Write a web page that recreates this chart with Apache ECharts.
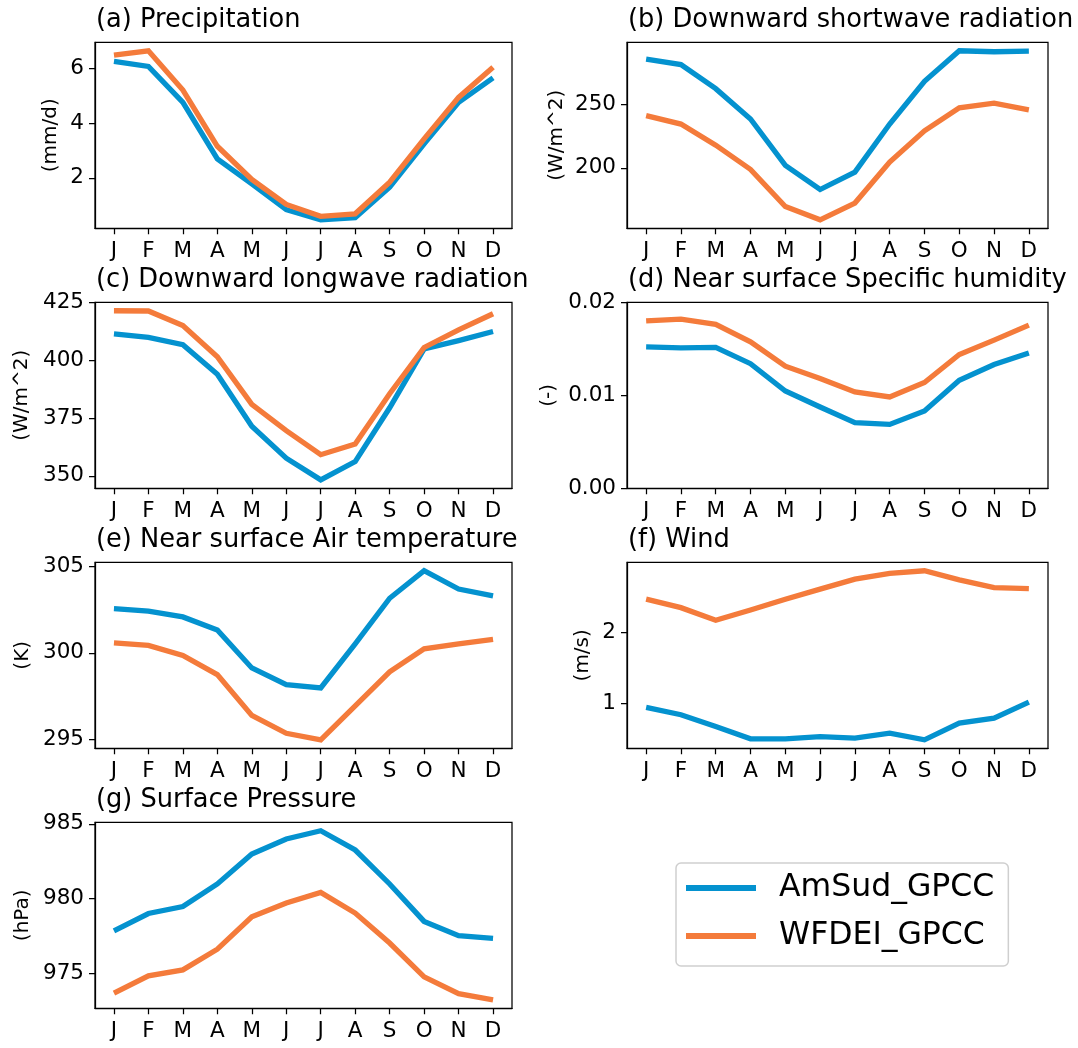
<!DOCTYPE html>
<html>
<head>
<meta charset="utf-8">
<script src="https://cdn.jsdelivr.net/npm/echarts@6/dist/echarts.min.js"></script>
<style>
html,body{margin:0;padding:0;background:#fff;}
#chart{width:1078px;height:1048px;}
</style>
</head>
<body>
<div id="chart"></div>
<script>
// ---------- data ----------
const months = ['J','F','M','A','M','J','J','A','S','O','N','D'];
const seriesNames = ['AmSud_GPCC','WFDEI_GPCC'];

const precipAmSud = [6.24,6.06,4.75,2.69,1.78,0.84,0.47,0.55,1.66,3.24,4.75,5.64];
const precipWFDEI = [6.47,6.63,5.20,3.15,1.94,1.03,0.60,0.69,1.84,3.42,4.93,6.03];
const precipTicks = [2,4,6];

const swAmSud = [286.0,281.7,262.6,238.6,201.9,182.8,196.6,234.6,268.4,292.6,291.8,292.3];
const swWFDEI = [241.3,234.6,217.9,198.7,169.4,158.8,172.1,204.5,229.3,247.4,251.1,245.8];
const swTicks = [200,250];

const lwAmSud = [411.5,410.0,406.8,394.0,371.5,357.7,348.3,356.2,379.5,405.0,408.6,412.5];
const lwWFDEI = [421.5,421.4,415.1,401.6,381.0,369.6,359.2,363.8,385.6,405.6,413.2,420.2];
const lwTicks = [350,375,400,425];

const qAmSud = [0.0152,0.0151,0.01515,0.0134,0.01046,0.00874,0.00705,0.00687,0.00831,0.01162,0.01331,0.01456];
const qWFDEI = [0.0180,0.0182,0.01763,0.01575,0.01313,0.0118,0.01036,0.00982,0.01137,0.01439,0.01593,0.01755];
const qTicks = [0,0.01,0.02];
const qLimits = [0,0.02];

const tAmSud = [302.56,302.42,302.08,301.32,299.13,298.16,297.97,300.52,303.16,304.75,303.69,303.30];
const tWFDEI = [300.58,300.43,299.85,298.74,296.38,295.35,294.97,296.94,298.90,300.23,300.52,300.78];
const tTicks = [295,300,305];

const windAmSud = [0.948,0.846,0.682,0.509,0.509,0.541,0.518,0.588,0.495,0.728,0.798,1.022];
const windWFDEI = [2.459,2.341,2.164,2.309,2.459,2.600,2.739,2.818,2.856,2.729,2.621,2.607];
const windTicks = [1,2];

const psAmSud = [977.83,978.99,979.46,980.97,982.98,983.99,984.54,983.25,980.97,978.46,977.50,977.32];
const psWFDEI = [973.65,974.81,975.21,976.60,978.77,979.69,980.40,979.02,977.01,974.74,973.62,973.20];
const psTicks = [975,980,985];

// ---------- layout / style ----------
const FONT = 'DejaVu Sans';
const BLUE = '#0492cf';
const ORANGE = '#f47b3b';
const colLeft = [95, 627];
const colWidth = [417, 421];
const rowTop = [42.3, 302.3, 562.3, 822.3];
const boxH = 186;

const panels = [
  {title:'(a) Precipitation', unit:'(mm/d)', a:precipAmSud, w:precipWFDEI, ticks:precipTicks, dec:0, col:0, row:0, gap:34},
  {title:'(b) Downward shortwave radiation', unit:'(W/m^2)', a:swAmSud, w:swWFDEI, ticks:swTicks, dec:0, col:1, row:0, gap:60},
  {title:'(c) Downward longwave radiation', unit:'(W/m^2)', a:lwAmSud, w:lwWFDEI, ticks:lwTicks, dec:0, col:0, row:1, gap:63},
  {title:'(d) Near surface Specific humidity', unit:'(-)', a:qAmSud, w:qWFDEI, ticks:qTicks, dec:2, col:1, row:1, gap:68, lim:qLimits},
  {title:'(e) Near surface Air temperature', unit:'(K)', a:tAmSud, w:tWFDEI, ticks:tTicks, dec:0, col:0, row:2, gap:62},
  {title:'(f) Wind', unit:'(m/s)', a:windAmSud, w:windWFDEI, ticks:windTicks, dec:0, col:1, row:2, gap:34},
  {title:'(g) Surface Pressure', unit:'(hPa)', a:psAmSud, w:psWFDEI, ticks:psTicks, dec:0, col:0, row:3, gap:62}
];

function pad(lo, hi){ const r = hi - lo; return [lo - 0.05*r, hi + 0.05*r]; }
const monthIdx = months.map((m,i)=>i);
const xLim = pad(0, months.length-1);

const grid = [], xAxis = [], yAxis = [], series = [], title = [];
panels.forEach((p, k) => {
  const all = p.a.concat(p.w);
  const lim = p.lim || pad(Math.min.apply(null, all), Math.max.apply(null, all));
  grid.push({left: colLeft[p.col], top: rowTop[p.row], width: colWidth[p.col], height: boxH,
    show: true, borderColor: '#000', borderWidth: 1.25, backgroundColor: 'transparent', containLabel: false});
  title.push({text: p.title, left: colLeft[p.col] + 1, top: rowTop[p.row] - 34.5, padding: 0,
    textStyle: {fontFamily: FONT, fontSize: 25.7, fontWeight: 'normal', color: '#000'}});
  xAxis.push({type: 'value', gridIndex: k, min: xLim[0], max: xLim[1],
    axisLine: {show: true, onZero: false, lineStyle: {color: '#000', width: 1.25}},
    axisTick: {show: true, length: 6, customValues: monthIdx, lineStyle: {color: '#000', width: 1.25}},
    axisLabel: {customValues: monthIdx, margin: 12, color: '#000', fontFamily: FONT, fontSize: 21.5,
      formatter: v => months[Math.round(v)]},
    splitLine: {show: false}});
  yAxis.push({type: 'value', gridIndex: k, min: lim[0], max: lim[1],
    name: p.unit, nameLocation: 'middle', nameGap: p.gap,
    nameTextStyle: {fontFamily: FONT, fontSize: 20, color: '#000'},
    axisLine: {show: true, onZero: false, lineStyle: {color: '#000', width: 1.25}},
    axisTick: {show: true, length: 6, customValues: p.ticks, lineStyle: {color: '#000', width: 1.25}},
    axisLabel: {customValues: p.ticks, margin: 11, color: '#000', fontFamily: FONT, fontSize: 21.5,
      formatter: v => Number(v).toFixed(p.dec)},
    splitLine: {show: false}});
  [[p.a, BLUE, 0], [p.w, ORANGE, 1]].forEach(([vals, color, s]) => {
    series.push({type: 'line', name: seriesNames[s], xAxisIndex: k, yAxisIndex: k,
      data: vals.map((v, i) => [monthIdx[i], v]),
      symbol: 'none', smooth: false, animation: false,
      lineStyle: {color: color, width: 5.3, cap: 'butt', join: 'miter'},
      itemStyle: {color: color}});
  });
});

const chart = echarts.init(document.getElementById('chart'), null, {renderer: 'canvas'});
chart.setOption({
  backgroundColor: '#fff',
  animation: false,
  title: title,
  grid: grid,
  xAxis: xAxis,
  yAxis: yAxis,
  legend: {
    data: seriesNames, orient: 'vertical', left: 676, top: 863,
    icon: 'rect', itemWidth: 70, itemHeight: 6, itemGap: 10,
    padding: [6, 14, 11, 10],
    borderColor: '#cfcfcf', borderWidth: 1.5, borderRadius: 5, backgroundColor: '#fff',
    textStyle: {fontFamily: FONT, fontSize: 31.5, color: '#000', lineHeight: 38, padding: [0, 0, 0, 18]}
  },
  series: series
});
</script>
</body>
</html>
